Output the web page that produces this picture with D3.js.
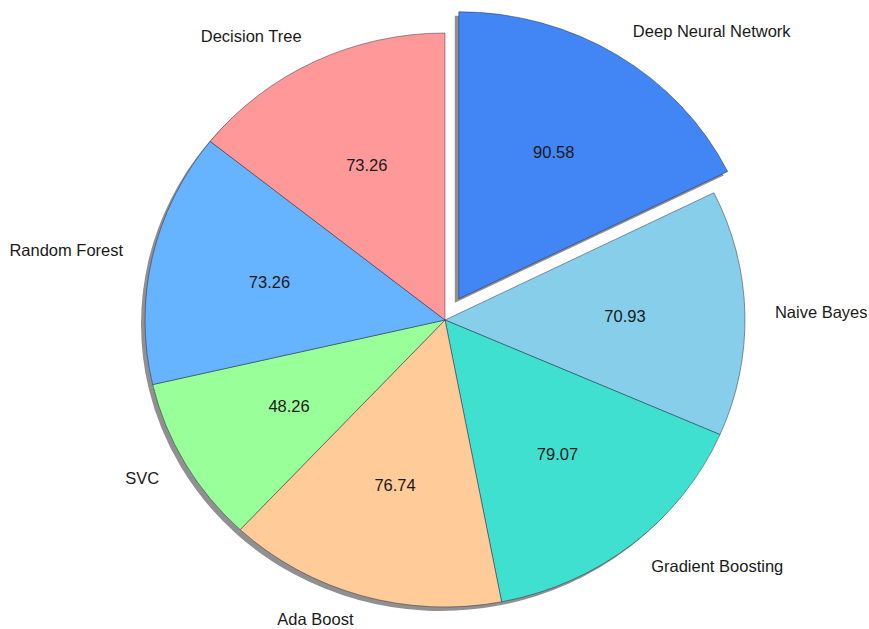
<!DOCTYPE html>
<html>
<head>
<meta charset="utf-8">
<script src="https://cdn.jsdelivr.net/npm/d3@7/dist/d3.min.js"></script>
<style>
  html, body { margin: 0; padding: 0; background: #ffffff; }
  svg { display: block; }
  text { font-family: "Liberation Sans", Arial, sans-serif; }
</style>
</head>
<body>
<svg id="chart" width="869" height="629"></svg>
<script>
// ---- data (clockwise from 12 o'clock) ----
const models = ["Deep Neural Network", "Naive Bayes", "Gradient Boosting", "Ada Boost", "SVC", "Random Forest", "Decision Tree"];
const accuracy = [90.58, 70.93, 79.07, 76.74, 48.26, 73.26, 73.26];
const sliceColors = ["#4285f4", "#87ceeb", "#40e0d0", "#ffcc99", "#99ff99", "#66b3ff", "#ff9999"];
const explodedModel = "Deep Neural Network";

// ---- layout ----
const W = 869, H = 629;
const cx = 445, cy = 320;
const r = 287;            // vertical radius
const sx = 300 / 287;     // horizontal stretch of the picture
const explodeDist = 25;
const labelDist = 1.1, pctDist = 0.6;
const fontSize = 16.5;

const svg = d3.select("#chart");
svg.append("rect").attr("width", W).attr("height", H).attr("fill", "#ffffff");

const pie = d3.pie().sort(null).value(d => d.value).startAngle(0).endAngle(2 * Math.PI);
const arcs = pie(models.map((m, i) => ({ name: m, value: accuracy[i], color: sliceColors[i] })));
const arc = d3.arc().innerRadius(0).outerRadius(r);

const mid = d => (d.startAngle + d.endAngle) / 2;
const off = d => d.data.name === explodedModel ? explodeDist : 0;
const pos = (d, dist) => {
  const a = mid(d);
  return [cx + Math.sin(a) * dist * sx, cy - Math.cos(a) * dist];
};

const root = svg.append("g");

// shadows (beneath all wedges)
const shadowG = root.append("g").attr("transform", `translate(${cx - 4},${cy + 4}) scale(${sx},1)`);
shadowG.selectAll("path").data(arcs).join("path")
  .attr("transform", d => `translate(${Math.sin(mid(d)) * off(d)},${-Math.cos(mid(d)) * off(d)})`)
  .attr("d", arc)
  .attr("fill", "#555555")
  .attr("opacity", 0.65);

// wedges
const wedgeG = root.append("g").attr("transform", `translate(${cx},${cy}) scale(${sx},1)`);
wedgeG.selectAll("path").data(arcs).join("path")
  .attr("transform", d => `translate(${Math.sin(mid(d)) * off(d)},${-Math.cos(mid(d)) * off(d)})`)
  .attr("d", arc)
  .attr("fill", d => d.data.color)
  .attr("stroke", "rgba(30,30,60,0.45)")
  .attr("stroke-width", 1)
  .attr("vector-effect", "non-scaling-stroke");

// outer labels
root.append("g").selectAll("text").data(arcs).join("text")
  .attr("x", d => pos(d, labelDist * r + off(d))[0])
  .attr("y", d => Math.min(pos(d, labelDist * r + off(d))[1], H - 10))
  .attr("text-anchor", d => Math.sin(mid(d)) > 0 ? "start" : "end")
  .attr("dominant-baseline", "central")
  .attr("font-size", fontSize)
  .attr("fill", "#1a1a1a")
  .text(d => d.data.name);

// value labels
root.append("g").selectAll("text").data(arcs).join("text")
  .attr("x", d => pos(d, pctDist * r + off(d))[0])
  .attr("y", d => pos(d, pctDist * r + off(d))[1])
  .attr("text-anchor", "middle")
  .attr("dominant-baseline", "central")
  .attr("font-size", fontSize)
  .attr("fill", "#1a1a1a")
  .text(d => d3.format(".2f")(d.data.value));
</script>
</body>
</html>
